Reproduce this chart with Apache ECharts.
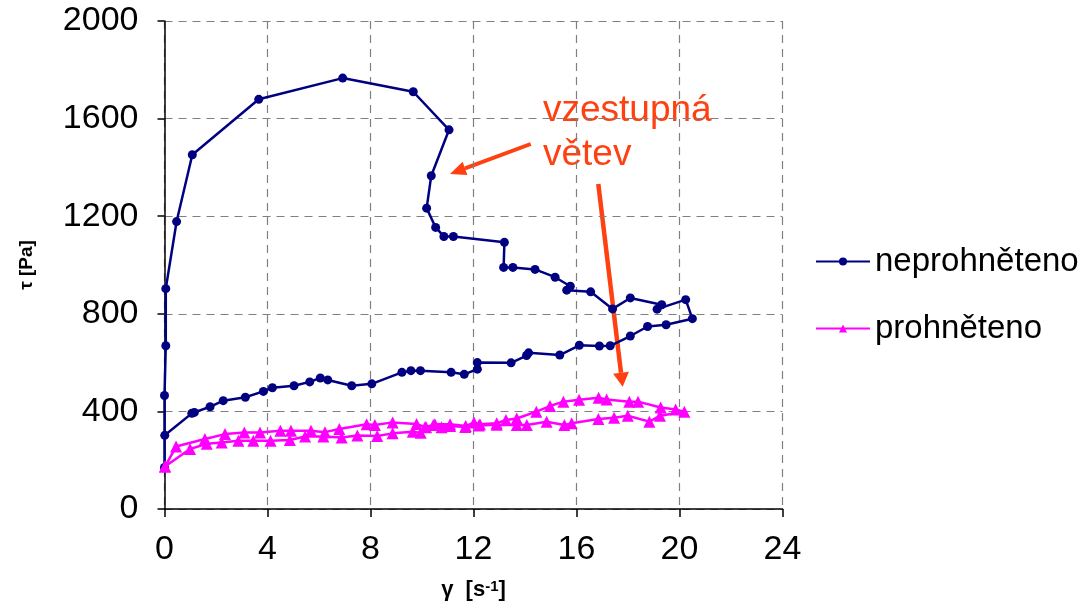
<!DOCTYPE html>
<html>
<head>
<meta charset="utf-8">
<script src="https://cdn.jsdelivr.net/npm/echarts@6/dist/echarts.min.js"></script>
<style>
  html, body { margin: 0; padding: 0; background: #fff; }
  #chart { width: 1086px; height: 606px; }
</style>
</head>
<body>
<div id="chart"></div>
<script>
// neprohněteno – vzestupná větev, pak sestupná
const navyGamma = [0, 0, 0.05, 0.05, 0.47, 1.08, 3.66, 6.92, 9.66, 11.05, 10.36, 10.18, 10.53, 10.85, 11.22,
    13.2, 13.17, 13.53, 14.39, 15.17, 15.76, 15.62, 16.55, 17.4, 18.09, 19.31, 19.13, 20.24, 20.5,
    19.48, 18.76, 18.09, 17.31, 16.89, 16.11, 15.35, 14.14, 14.06, 13.46, 12.15, 12.15, 11.64, 11.13,
    9.94, 9.57, 9.22, 8.05, 7.27, 6.34, 6.05, 5.64, 5.03, 4.19, 3.84, 3.14, 2.28, 1.77, 1.16, 1.06, 0.01];
const navyTau = [170, 465, 669, 903, 1178, 1452, 1679, 1766, 1710, 1554, 1366, 1233, 1154, 1117, 1117,
    1093, 990, 990, 982, 950, 913, 897, 890, 820, 865, 837, 819, 858, 780,
    755, 748, 709, 669, 668, 671, 631, 640, 629, 599, 600, 573, 552, 560,
    567, 567, 560, 513, 505, 529, 537, 521, 505, 497, 482, 458, 444, 419, 396, 392, 302];

// prohněteno
const pinkGamma = [0.02, 0.45, 1.57, 2.35, 3.1, 3.71, 4.5, 4.91, 5.69, 6.23, 6.79, 7.85, 8.17, 8.86, 9.79,
    10.16, 10.5, 11.09, 11.7, 12.02, 12.25, 12.9, 13.26, 13.68, 14.44, 14.97, 15.49, 16.1, 16.86, 17.17,
    18.05, 18.39, 19.27, 19.85, 20.19,
    19.24, 18.83, 17.99, 17.46, 16.85, 15.81, 15.53, 14.84, 14.07, 13.68, 12.9, 12.21, 11.68, 11.09,
    10.76, 10.44, 10.12, 9.95, 9.64, 8.86, 8.26, 7.49, 6.88, 6.17, 5.46, 4.87, 4.12, 3.45, 2.87, 2.22,
    1.64, 0.99, 0.02];
const pinkTau = [174, 256, 287, 307, 314, 314, 321, 321, 321, 315, 328, 347, 344, 355, 348,
    335, 347, 347, 340, 355, 347, 351, 365, 371, 399, 422, 440, 448, 456, 449,
    440, 440, 416, 408, 399,
    382, 358, 382, 374, 369, 351, 344, 358, 344, 344, 345, 342, 336, 340,
    335, 344, 336, 313, 317, 310, 299, 301, 293, 297, 297, 283, 280, 280, 280, 273,
    267, 246, 174];

const seriesNames = ['neprohněteno', 'prohněteno'];
const xTicks = { min: 0, max: 24, interval: 4 };
const yTicks = { min: 0, max: 2000, interval: 400 };

const zip = (xs, ys) => xs.map((x, i) => [x, ys[i]]);

const font = '"Liberation Sans", Arial, sans-serif';
const red = '#ff4010';

const chart = echarts.init(document.getElementById('chart'), null, { renderer: 'canvas' });

chart.setOption({
    backgroundColor: '#ffffff',
    animation: false,
    textStyle: { fontFamily: font },
    grid: { left: 164.5, right: 303.5, top: 21, bottom: 95 },
    legend: {
        orient: 'vertical',
        left: 810,
        top: 240,
        itemWidth: 54,
        itemHeight: 10,
        itemGap: 34,
        textStyle: { fontSize: 33, color: '#000', fontFamily: font },
        data: seriesNames
    },
    xAxis: {
        type: 'value',
        min: xTicks.min,
        max: xTicks.max,
        interval: xTicks.interval,
        name: '{b|γ  [s}{sup|-1}{b|]}',
        nameLocation: 'middle',
        nameGap: 70,
        nameTextStyle: {
            rich: {
                b: { fontSize: 22, fontWeight: 'bold', color: '#000', fontFamily: font },
                sup: { fontSize: 15, fontWeight: 'bold', color: '#000', verticalAlign: 'top', fontFamily: font }
            }
        },
        axisLine: { lineStyle: { color: '#000', width: 1.5 } },
        axisTick: { length: 8, lineStyle: { color: '#000', width: 1.5 } },
        axisLabel: { fontSize: 34, color: '#000', margin: 24 },
        splitLine: { show: true, lineStyle: { color: '#808080', type: [8, 6], width: 1.2 } }
    },
    yAxis: {
        type: 'value',
        min: yTicks.min,
        max: yTicks.max,
        interval: yTicks.interval,
        name: 'τ [Pa]',
        nameLocation: 'middle',
        nameGap: 128,
        nameTextStyle: { fontSize: 19, fontWeight: 'bold', color: '#000' },
        axisLine: { show: true, lineStyle: { color: '#000', width: 1.5 } },
        axisTick: { show: true, length: 7, lineStyle: { color: '#000', width: 1.5 } },
        axisLabel: { fontSize: 34, color: '#000', margin: 26, formatter: v => String(v) },
        splitLine: { show: true, lineStyle: { color: '#808080', type: [8, 6], width: 1.2 } }
    },
    series: [
        {
            name: seriesNames[0],
            type: 'line',
            data: zip(navyGamma, navyTau),
            symbol: 'circle',
            symbolSize: 9,
            color: '#000080',
            lineStyle: { color: '#000080', width: 2.5 },
            itemStyle: { color: '#000080' },
            z: 3
        },
        {
            name: seriesNames[1],
            type: 'line',
            data: zip(pinkGamma, pinkTau),
            symbol: 'triangle',
            symbolSize: 12,
            color: '#ff00ff',
            lineStyle: { color: '#ff00ff', width: 2.5 },
            itemStyle: { color: '#ff00ff' },
            z: 4
        }
    ],
    graphic: [
        { type: 'text', left: 543, top: 92, style: { text: 'vzestupná', fill: red, font: '37px ' + font } },
        { type: 'text', left: 543, top: 136, style: { text: 'větev', fill: red, font: '37px ' + font } },
        { type: 'line', shape: { x1: 530.7, y1: 144, x2: 465, y2: 168.4 }, style: { stroke: red, lineWidth: 4 } },
        { type: 'polygon', shape: { points: [[450, 174], [467.4, 175], [462.6, 161.8]] }, style: { fill: red } },
        { type: 'line', shape: { x1: 598.3, y1: 184, x2: 621, y2: 372.8 }, style: { stroke: red, lineWidth: 4.5 } },
        { type: 'polygon', shape: { points: [[622.7, 386.7], [628.9, 371.8], [613.1, 373.8]] }, style: { fill: red } }
    ]
});
</script>
</body>
</html>
